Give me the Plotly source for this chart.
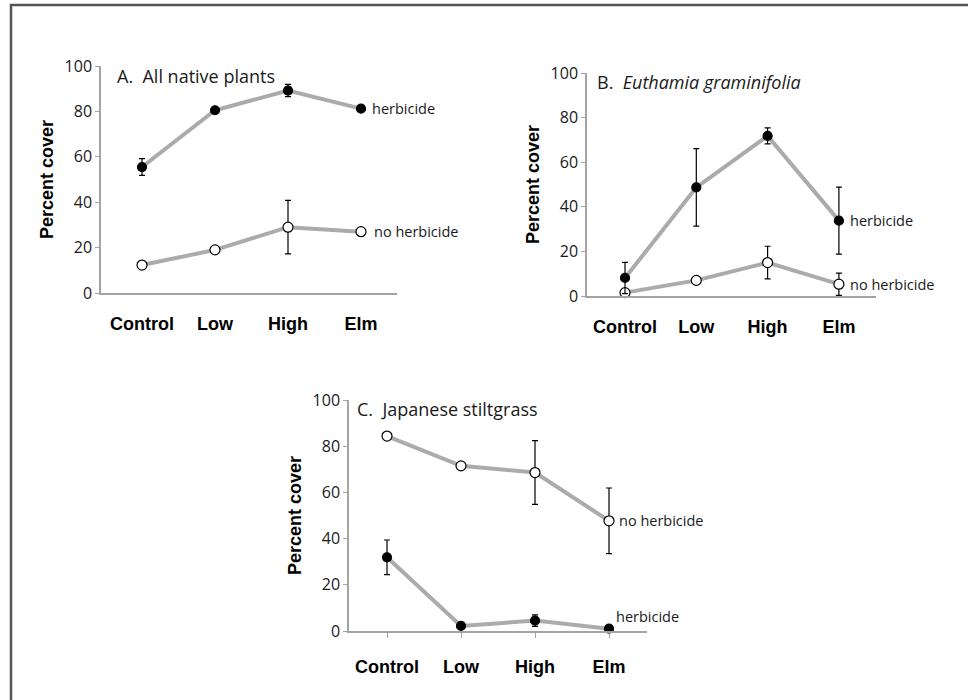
import plotly.graph_objects as go

W, H = 968, 700

categories = ["Control", "Low", "High", "Elm"]

# Panel A: All native plants
a_herb = [55.5, 80.5, 89.2, 81.2]
a_herb_err = [3.7, 1.0, 2.7, 0.0]
a_noherb = [12.3, 19.0, 29.0, 27.0]
a_noherb_err = [0.8, 1.6, 11.8, 0.0]

# Panel B: Euthamia graminifolia
b_herb = [8.1, 48.7, 71.8, 33.8]
b_herb_err = [7.0, 17.4, 3.6, 15.0]
b_noherb = [1.5, 7.0, 15.0, 5.3]
b_noherb_err = [0.5, 0.5, 7.3, 5.0]

# Panel C: Japanese stiltgrass
c_noherb = [84.4, 71.5, 68.6, 47.7]
c_noherb_err = [0.5, 0.5, 13.8, 14.2]
c_herb = [31.9, 2.2, 4.5, 1.0]
c_herb_err = [7.5, 0.5, 2.5, 0.0]

panels = [
    dict(key="", herb=a_herb, herb_err=a_herb_err, noh=a_noherb, noh_err=a_noherb_err,
         px=(101, 397), py=(293, 66), cat0=142, step=73,
         title="A.  All native plants", tx=115, ty=76,
         lab_herb=(9, 0), lab_noh=(11, 0), ticks=""),
    dict(key="2", herb=b_herb, herb_err=b_herb_err, noh=b_noherb, noh_err=b_noherb_err,
         px=(587, 876), py=(296, 73), cat0=625, step=71.3,
         title="B.  <i>Euthamia graminifolia</i>", tx=595, ty=82,
         lab_herb=(9, 0), lab_noh=(9, 0), ticks=""),
    dict(key="3", herb=c_herb, herb_err=c_herb_err, noh=c_noherb, noh_err=c_noherb_err,
         px=(349, 647), py=(631, 400), cat0=387, step=74,
         title="C.  Japanese stiltgrass", tx=355, ty=409,
         lab_herb=(5, 12), lab_noh=(8, 0), ticks="outside"),
]

LINE_GRAY = "#ABABAB"
AXIS_GRAY = "#A3A3A3"
TXT = "#1a1a1a"
BODY_FONT = "Open Sans"

fig = go.Figure()
layout = dict(
    template="none",
    width=W, height=H, margin=dict(l=0, r=0, t=0, b=0, pad=0), autosize=False,
    paper_bgcolor="white", plot_bgcolor="white", showlegend=False,
    annotations=[], shapes=[],
)

xs = list(range(len(categories)))
for p in panels:
    k = p["key"]
    xa = "x" + k
    ya = "y" + k
    for vals, errs, fill in [(p["noh"], p["noh_err"], "white"), (p["herb"], p["herb_err"], "black")]:
        fig.add_trace(go.Scatter(
            x=xs, y=vals, xaxis=xa, yaxis=ya, mode="lines+markers",
            line=dict(color=LINE_GRAY, width=4),
            marker=dict(size=10 if fill == "white" else 9, color=fill,
                        line=dict(color="black", width=1.2)),
            error_y=dict(type="data", array=errs, visible=True, color="black",
                         thickness=1.2, width=3),
            cliponaxis=False, hoverinfo="skip",
        ))
    x0 = (p["px"][0] - p["cat0"]) / p["step"]
    x1 = (p["px"][1] - p["cat0"]) / p["step"]
    layout["xaxis" + k] = dict(
        domain=[p["px"][0] / W, p["px"][1] / W], anchor=ya, range=[x0, x1],
        automargin=False,
        tickmode="array", tickvals=xs, ticktext=categories,
        showline=True, linecolor=AXIS_GRAY, linewidth=1.5,
        ticks=p["ticks"], ticklen=5, tickcolor=AXIS_GRAY, tickwidth=1.2,
        showgrid=False, zeroline=False, ticklabelstandoff=14,
        tickfont=dict(family="Liberation Sans, Arial", size=18, color="black", weight="bold"),
    )
    layout["yaxis" + k] = dict(
        domain=[1 - p["py"][0] / H, 1 - p["py"][1] / H], anchor=xa, range=[0, 100],
        automargin=False,
        tickmode="array", tickvals=[0, 20, 40, 60, 80, 100],
        showline=True, linecolor=AXIS_GRAY, linewidth=1.5,
        ticks="outside", ticklen=4, tickcolor=AXIS_GRAY, tickwidth=1.2,
        showgrid=False, zeroline=False, ticklabelstandoff=0,
        tickfont=dict(family=BODY_FONT, size=16, color=TXT),
        title=dict(text="Percent cover", standoff=6,
                   font=dict(family="Liberation Sans, Arial", size=18, color="black", weight="bold")),
    )
    layout["annotations"].append(dict(
        text=p["title"], xref="paper", yref="paper", x=p["tx"] / W, y=1 - p["ty"] / H,
        xanchor="left", yanchor="middle", showarrow=False,
        font=dict(family=BODY_FONT, size=18, color=TXT)))
    layout["annotations"].append(dict(
        text="herbicide", xref=xa, yref=ya, x=xs[-1], y=p["herb"][-1],
        xanchor="left", yanchor="middle", showarrow=False,
        xshift=p["lab_herb"][0], yshift=p["lab_herb"][1],
        font=dict(family=BODY_FONT, size=14.5, color=TXT)))
    layout["annotations"].append(dict(
        text="no herbicide", xref=xa, yref=ya, x=xs[-1], y=p["noh"][-1],
        xanchor="left", yanchor="middle", showarrow=False,
        xshift=p["lab_noh"][0], yshift=p["lab_noh"][1],
        font=dict(family=BODY_FONT, size=14.5, color=TXT)))

# outer frame (top and left edges visible in the original crop)
layout["shapes"].append(dict(type="path", xref="paper", yref="paper",
                             path=f"M {11/W} 0 L {11/W} {1-5/H} L 1 {1-5/H}",
                             line=dict(color="#555555", width=2.5)))

fig.update_layout(**layout)
fig.write_html("out.html", config={"displayModeBar": False},
               post_script="document.body.style.margin='0';document.body.style.overflow='hidden';")
